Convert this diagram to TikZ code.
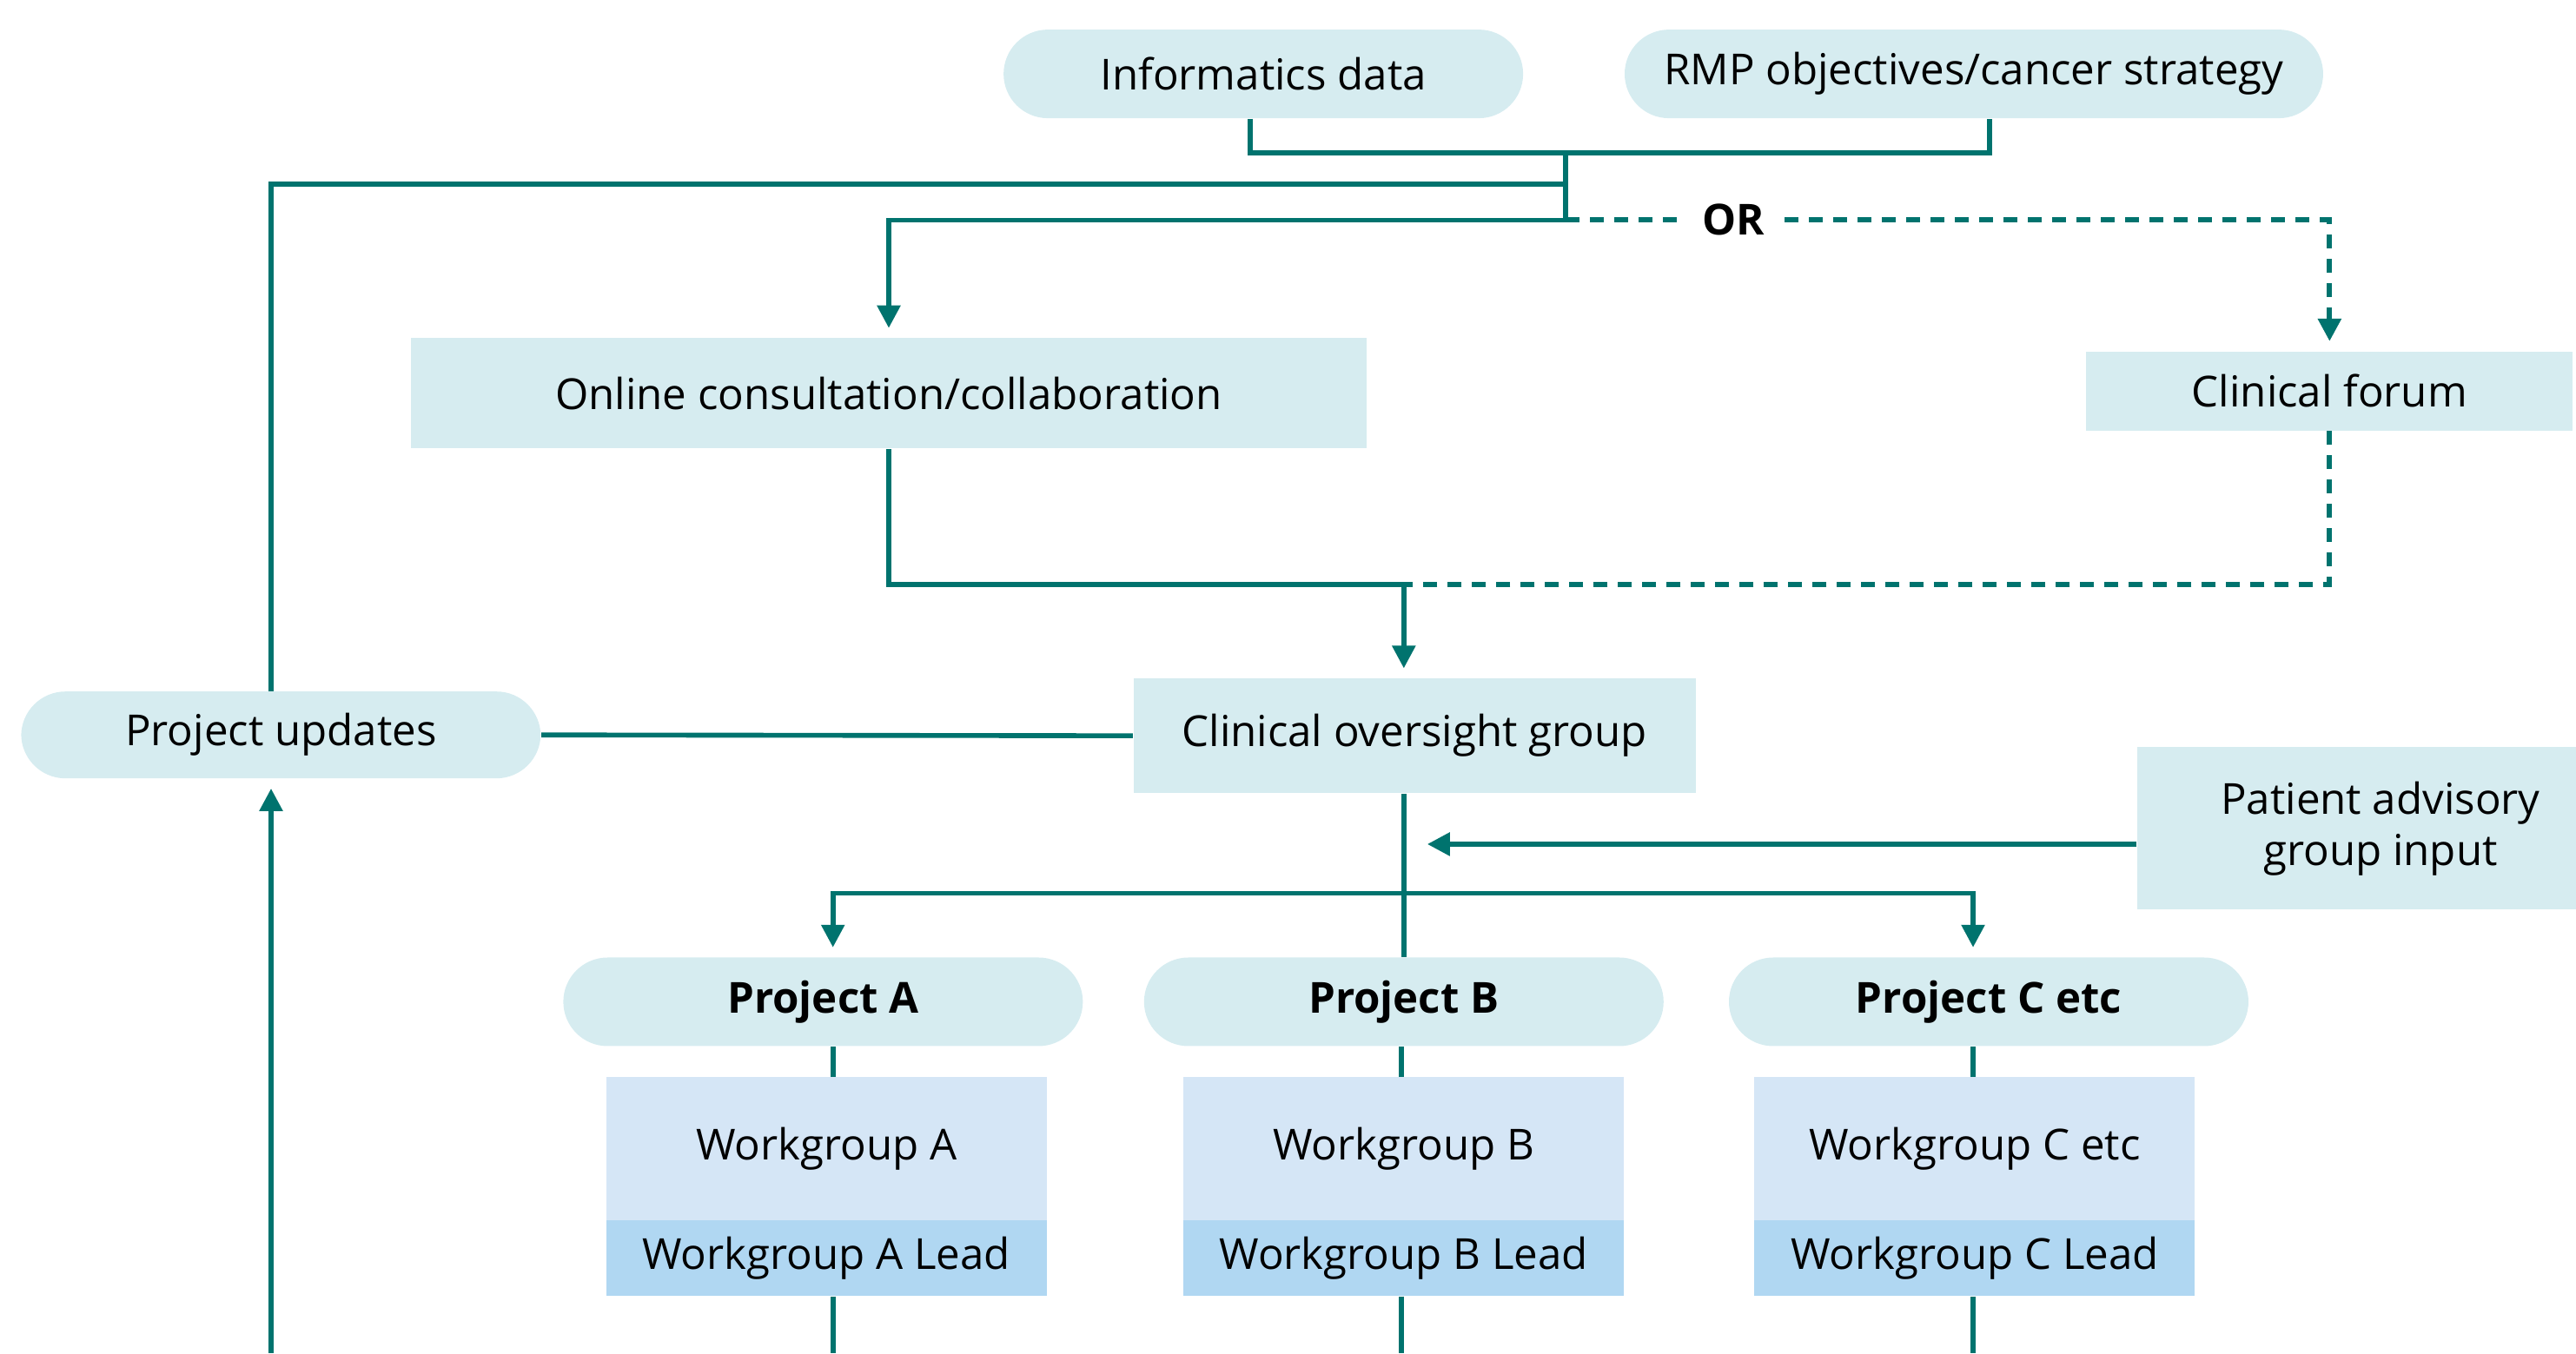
\documentclass[tikz,border=0pt]{standalone}
\usepackage{fontspec}
\setmainfont{Open Sans}
\usetikzlibrary{arrows.meta}

\definecolor{paleteal}{RGB}{214,236,240}
\definecolor{groupblue}{RGB}{213,230,246}
\definecolor{leadblue}{RGB}{176,215,242}
\definecolor{lineteal}{RGB}{0,115,110}

\tikzset{
  pill/.style={fill=paleteal, rounded corners=0.51cm, minimum width=5.98cm, minimum height=1.02cm, inner sep=0pt},
  box/.style={fill=paleteal, inner sep=0pt},
  group/.style={fill=groupblue, minimum width=5.07cm, minimum height=1.65cm, inner sep=0pt},
  lead/.style={fill=leadblue, minimum width=5.07cm, minimum height=0.87cm, inner sep=0pt},
  link/.style={draw=lineteal, line width=1.6pt},
  optional/.style={draw=lineteal, line width=1.7pt, dash pattern=on 0.16cm off 0.12cm},
  flow/.style={-{Triangle[length=0.26cm, width=0.26cm]}, shorten >=0.11cm},
  strong/.style={font=\fontsize{14}{16.8}\selectfont\bfseries}
}

\begin{document}
\begin{tikzpicture}[x=0.1891mm, y=-0.1891mm, font=\fontsize{14}{16.8}\selectfont]
  \useasboundingbox (0, 0) rectangle (1568, 824);

  % Sources
  \node[pill] (inf) at (769, 45) {Informatics data};
  \node[pill, minimum width=8.04cm] (rmp) at (1201.5, 45) {RMP objectives/cancer strategy};

  % Consultation
  \node[box, minimum width=11.01cm, minimum height=1.27cm] (online) at (541, 239.5) {Online consultation/collaboration};
  \node[box, minimum width=5.60cm, minimum height=0.91cm] (forum) at (1418, 238) {Clinical forum};

  % Oversight
  \node[pill, minimum height=1.00cm] (upd) at (171, 447.5) {Project updates};
  \node[box, minimum width=6.47cm, minimum height=1.32cm] (cog) at (861, 448) {Clinical oversight group};
  \node[box, minimum width=5.60cm, minimum height=1.87cm, align=center] (pag) at (1449, 504.5) {Patient advisory\\group input};

  % Projects
  \node[pill, strong] (pa) at (501, 610) {Project A};
  \node[pill, strong] (pb) at (854.5, 610) {Project B};
  \node[pill, strong] (pc) at (1210.5, 610) {Project C etc};

  \node[group] (wga) at (503, 699.5) {Workgroup A};
  \node[group] (wgb) at (854.5, 699.5) {Workgroup B};
  \node[group] (wgc) at (1202, 699.5) {Workgroup C etc};
  \node[lead] (lda) at (503, 766) {Workgroup A Lead};
  \node[lead] (ldb) at (854.5, 766) {Workgroup B Lead};
  \node[lead] (ldc) at (1202, 766) {Workgroup C Lead};

  % Junctions and free ends
  \coordinate (j0) at (761, 93);
  \coordinate (j1) at (953, 93);
  \coordinate (j2) at (953, 112);
  \coordinate (j3) at (953, 134);
  \coordinate (j6) at (1211, 93);
  \coordinate (j4) at (854.5, 356);
  \coordinate (j5) at (854.5, 544);
  \coordinate (pin) at (863, 514);
  \coordinate (eu) at (165, 824);
  \coordinate (ea) at (507, 824);
  \coordinate (eb) at (853, 824);
  \coordinate (ec) at (1201, 824);

  \draw[link] (inf.south -| j0) -- (j0) -- (j6) -- (rmp.south -| j6);
  \draw[link] (j1) -- (j3);
  \draw[link] (upd.north -| eu) |- (j2);
  \draw[link, flow] (j3) -| (online.north);
  \draw[optional, flow] (j3) -| node[pos=0.11, fill=white, text=black, strong, inner xsep=0.22cm] {OR} (forum.north);

  \draw[link] (online.south) |- (j4);
  \draw[optional] (forum.south) |- (j4);
  \draw[link, flow] (j4) -- (j4 |- cog.north);

  \draw[link] (cog.west) -- (upd.east);
  \draw[link, flow] (eu) -- (upd.south -| eu);
  \draw[link] (cog.south -| j5) -- (pb.north -| j5);
  \draw[link, flow] (pag.west |- pin) -- (pin);
  \draw[link, flow] (j5) -| (pa.north -| ea);
  \draw[link, flow] (j5) -| (pc.north -| ec);

  \draw[link] (pa.south -| ea) -- (wga.north -| ea);
  \draw[link] (pb.south -| eb) -- (wgb.north -| eb);
  \draw[link] (pc.south -| ec) -- (wgc.north -| ec);
  \draw[link] (lda.south -| ea) -- (ea);
  \draw[link] (ldb.south -| eb) -- (eb);
  \draw[link] (ldc.south -| ec) -- (ec);

\end{tikzpicture}
\end{document}
